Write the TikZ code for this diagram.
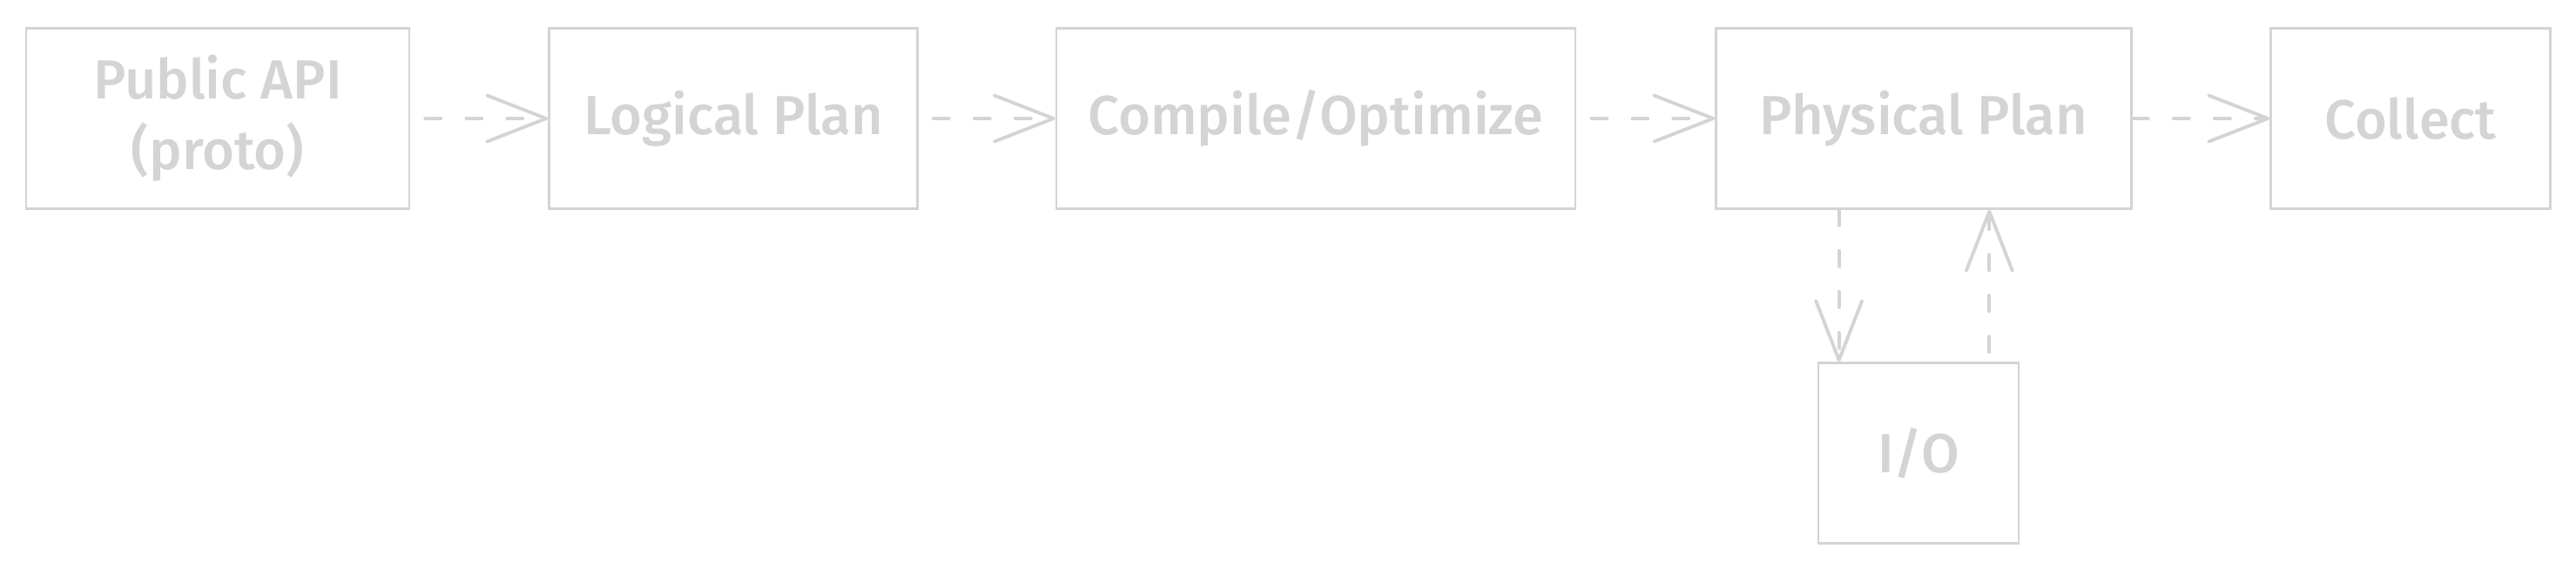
\documentclass[tikz,border=0pt]{standalone}
\usepackage{fontspec}
\setmainfont{Fira Sans Medium}
\usetikzlibrary{arrows.meta}
\definecolor{sketchgray}{RGB}{212,212,212}

\begin{document}
\begin{tikzpicture}[
	box/.style={rectangle, draw=sketchgray, line width=0.75pt, text=sketchgray, align=center, inner sep=0pt, font=\fontsize{18}{23}\selectfont},
	flow/.style={draw=sketchgray, line width=1.1pt, line cap=round, dash pattern=on 0.18cm off 0.29cm, -{Straight Barb[length=0.68cm, width=0.53cm, round]}}
]
\useasboundingbox (0,0) rectangle (29.58,6.53);

\node at (2.50,5.17)[box, minimum width=4.40cm, minimum height=2.07cm] (api) {Public API\\(proto)};
\node at (8.42,5.17)[box, minimum width=4.23cm, minimum height=2.07cm] (logical) {Logical Plan};
\node at (15.11,5.17)[box, minimum width=5.96cm, minimum height=2.07cm] (compile) {Compile/Optimize};
\node at (22.09,5.17)[box, minimum width=4.77cm, minimum height=2.07cm] (physical) {Physical Plan};
\node at (27.68,5.17)[box, minimum width=3.21cm, minimum height=2.07cm] (collect) {Collect};
\node at (22.03,1.33)[box, minimum width=2.30cm, minimum height=2.07cm] (io) {I/O};

% main pipeline
\draw[flow, shorten <=0.17cm] (api) -- (logical);
\draw[flow, shorten <=0.17cm] (logical) -- (compile);
\draw[flow, shorten <=0.17cm] (compile) -- (physical);
\draw[flow] (physical) -- (collect);

% to and from I/O
\coordinate (iodown) at ([xshift=0.25cm]io.north west);
\coordinate (ioup) at ([xshift=-0.35cm]io.north east);
\draw[flow] (iodown |- physical.south) -- (iodown);
\draw[flow, shorten <=0.11cm] (ioup) -- (ioup |- physical.south);
\end{tikzpicture}
\end{document}
